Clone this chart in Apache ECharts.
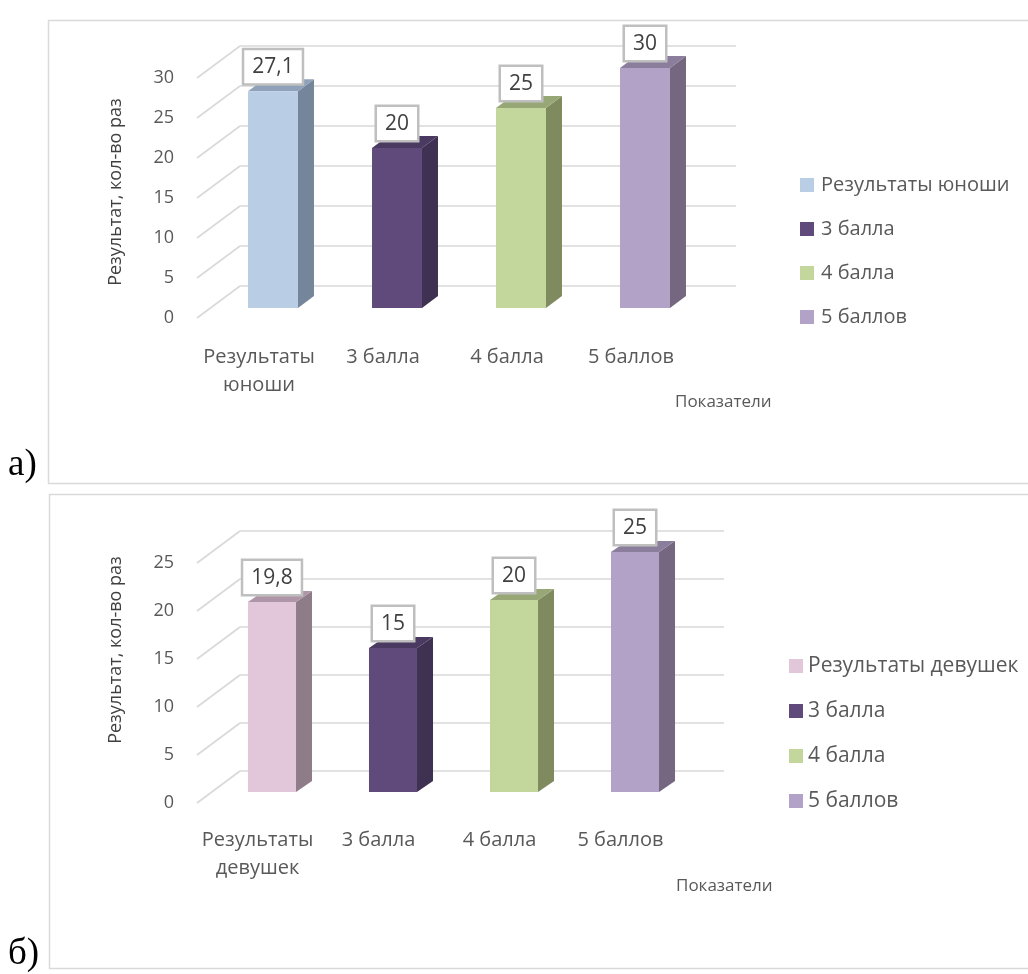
<!DOCTYPE html>
<html>
<head>
<meta charset="utf-8">
<script src="https://cdn.jsdelivr.net/npm/echarts@6/dist/echarts.min.js"></script>
<style>
  html, body { margin: 0; padding: 0; background: #ffffff; }
  #chart { width: 1028px; height: 974px; }
</style>
</head>
<body>
<div id="chart"></div>
<script>
// Chart а) — boys
const categoriesA = ['Результаты\nюноши', '3 балла', '4 балла', '5 баллов'];
const seriesNamesA = ['Результаты юноши', '3 балла', '4 балла', '5 баллов'];
const valuesA = [27.1, 20, 25, 30];
const yTicksA = [0, 5, 10, 15, 20, 25, 30];

// Chart б) — girls
const categoriesB = ['Результаты\nдевушек', '3 балла', '4 балла', '5 баллов'];
const seriesNamesB = ['Результаты девушек', '3 балла', '4 балла', '5 баллов'];
const valuesB = [19.8, 15, 20, 25];
const yTicksB = [0, 5, 10, 15, 20, 25];

// Face colours for each column: front, top, side
const palettesA = [
  { front: '#b9cde5', top: '#8fa2ba', side: '#76869a' },
  { front: '#604a7b', top: '#4a3960', side: '#3f3151' },
  { front: '#c3d69b', top: '#98a776', side: '#7f8b5f' },
  { front: '#b3a2c7', top: '#8b7d9c', side: '#75677f' }
];
const palettesB = [
  { front: '#e2c6da', top: '#ae96a8', side: '#8f7c89' },
  { front: '#604a7b', top: '#4a3960', side: '#3f3151' },
  { front: '#c3d69b', top: '#98a776', side: '#7f8b5f' },
  { front: '#b3a2c7', top: '#8b7d9c', side: '#75677f' }
];

const FONT = '"Open Sans", "Noto Sans", sans-serif';
const TEXT_GRAY = '#595959';
const GRID_GRAY = '#d9d9d9';

// Floor diagonals and back-wall gridlines of the pseudo-3D box
function wallRender(depth) {
  return function (params, api) {
    const cs = params.coordSys;
    const p = api.coord([0, api.value(1)]);
    const x0 = cs.x, y = p[1];
    const bx = x0 + depth.dx, by = y + depth.dy;
    const style = { stroke: GRID_GRAY, lineWidth: 1.6 };
    return {
      type: 'group',
      children: [
        { type: 'line', shape: { x1: x0, y1: y, x2: bx, y2: by }, style: style },
        { type: 'line', shape: { x1: bx, y1: by, x2: bx + cs.width, y2: by }, style: style }
      ]
    };
  };
}

// Column with front, top and side faces plus a boxed value label
function barRender(pal, geo) {
  return function (params, api) {
    const cat = api.value(0), v = api.value(1);
    const base = api.coord([cat, 0]);
    const top = api.coord([cat, v]);
    const band = api.size([1, 0])[0];
    const w = band * geo.ratio;
    const cx = base[0] + geo.shiftX;
    const x0 = cx - w / 2, x1 = cx + w / 2;
    const yb = base[1] + geo.shiftY, yt = top[1] + geo.shiftY;
    const sx = geo.sideX, sy = geo.sideY;
    const label = String(v).replace('.', ',');
    return {
      type: 'group',
      children: [
        { type: 'polygon', shape: { points: [[x1, yb], [x1, yt], [x1 + sx, yt - sy], [x1 + sx, yb - sy]] },
          style: { fill: pal.side } },
        { type: 'polygon', shape: { points: [[x0, yt], [x1, yt], [x1 + sx, yt - sy], [x0 + sx, yt - sy]] },
          style: { fill: pal.top } },
        { type: 'rect', shape: { x: x0, y: yt, width: w, height: yb - yt },
          style: { fill: pal.front } },
        { type: 'text', x: cx, y: yt - 8,
          style: {
            text: label, align: 'center', verticalAlign: 'bottom',
            font: '21px ' + FONT, fill: '#404040', lineHeight: 24,
            backgroundColor: '#ffffff', borderColor: '#bfbfbf', borderWidth: 2.5,
            padding: [5, 8, 4, 8]
          } }
      ]
    };
  };
}

function buildSeries(names, values, pals, ticks, gridIdx, geo) {
  const out = [{
    type: 'custom', name: '_wall' + gridIdx, xAxisIndex: gridIdx, yAxisIndex: gridIdx,
    data: ticks.map(t => [0, t]), renderItem: wallRender(geo.depth), silent: true, z: 1
  }];
  names.forEach((n, i) => {
    out.push({
      type: 'custom', name: n, xAxisIndex: gridIdx, yAxisIndex: gridIdx,
      itemStyle: { color: pals[i].front },
      data: [[i, values[i]]], renderItem: barRender(pals[i], geo), z: 2
    });
  });
  return out;
}

const geoA = { ratio: 0.403, shiftX: 14, shiftY: -10, sideX: 16, sideY: 12, depth: { dx: 43, dy: -32 } };
const geoB = { ratio: 0.397, shiftX: 14.5, shiftY: -11, sideX: 16, sideY: 11, depth: { dx: 43, dy: -32 } };

function xAxisCfg(cats, gridIdx, margin) {
  return {
    type: 'category', gridIndex: gridIdx, data: cats,
    axisLine: { show: false }, axisTick: { show: false }, splitLine: { show: false },
    axisLabel: { interval: 0, margin: margin, fontFamily: FONT, fontSize: 20, lineHeight: 28, color: TEXT_GRAY }
  };
}
function yAxisCfg(max, gridIdx, namePad) {
  return {
    type: 'value', gridIndex: gridIdx, min: 0, max: max, interval: 5,
    axisLine: { show: false }, axisTick: { show: false }, splitLine: { show: false },
    axisLabel: { margin: 23, fontFamily: FONT, fontSize: 18, color: TEXT_GRAY },
    name: 'Результат, кол-во раз', nameLocation: 'middle', nameRotate: 90, nameGap: 72,
    nameTextStyle: { fontFamily: FONT, fontSize: 18, color: '#404040', padding: namePad }
  };
}

const chart = echarts.init(document.getElementById('chart'), null, { renderer: 'canvas' });
chart.setOption({
  animation: false,
  backgroundColor: '#ffffff',
  graphic: [
    { type: 'rect', shape: { x: 48.5, y: 20.5, width: 1000, height: 463 },
      style: { fill: 'none', stroke: GRID_GRAY, lineWidth: 1.5 }, z: -10 },
    { type: 'rect', shape: { x: 49.5, y: 494.5, width: 1000, height: 474 },
      style: { fill: 'none', stroke: GRID_GRAY, lineWidth: 1.5 }, z: -10 }
  ],
  title: [
    { text: 'а)', left: 3, top: 442, textStyle: { fontFamily: '"Liberation Serif", serif', fontSize: 37, fontWeight: 'normal', color: '#000' } },
    { text: 'б)', left: 3, top: 931, textStyle: { fontFamily: '"Liberation Serif", serif', fontSize: 37, fontWeight: 'normal', color: '#000' } },
    { text: 'Показатели', left: 670, top: 389, textStyle: { fontFamily: FONT, fontSize: 17, fontWeight: 'normal', color: TEXT_GRAY } },
    { text: 'Показатели', left: 671, top: 873, textStyle: { fontFamily: FONT, fontSize: 17, fontWeight: 'normal', color: TEXT_GRAY } }
  ],
  legend: [
    { orient: 'vertical', left: 795, top: 169, itemWidth: 14, itemHeight: 14, itemGap: 22, icon: 'rect',
      data: seriesNamesA, selectedMode: false,
      textStyle: { fontFamily: FONT, fontSize: 20, lineHeight: 22, color: TEXT_GRAY, padding: [0, 0, 0, 2] } },
    { orient: 'vertical', left: 784, top: 650, itemWidth: 14, itemHeight: 14, itemGap: 23, icon: 'rect',
      data: seriesNamesB, selectedMode: false,
      textStyle: { fontFamily: FONT, fontSize: 21, lineHeight: 22, color: TEXT_GRAY, padding: [0, 0, 0, 0] } }
  ],
  grid: [
    { left: 197, top: 78, width: 496, height: 240 },
    { left: 197, top: 563, width: 484, height: 240 }
  ],
  xAxis: [xAxisCfg(categoriesA, 0, 25), xAxisCfg(categoriesB, 1, 23)],
  yAxis: [yAxisCfg(30, 0, [0, 0, 0, 12]), yAxisCfg(25, 1, [0, 0, 0, 66])],
  series: buildSeries(seriesNamesA, valuesA, palettesA, yTicksA, 0, geoA)
    .concat(buildSeries(seriesNamesB, valuesB, palettesB, yTicksB, 1, geoB))
});
</script>
</body>
</html>
